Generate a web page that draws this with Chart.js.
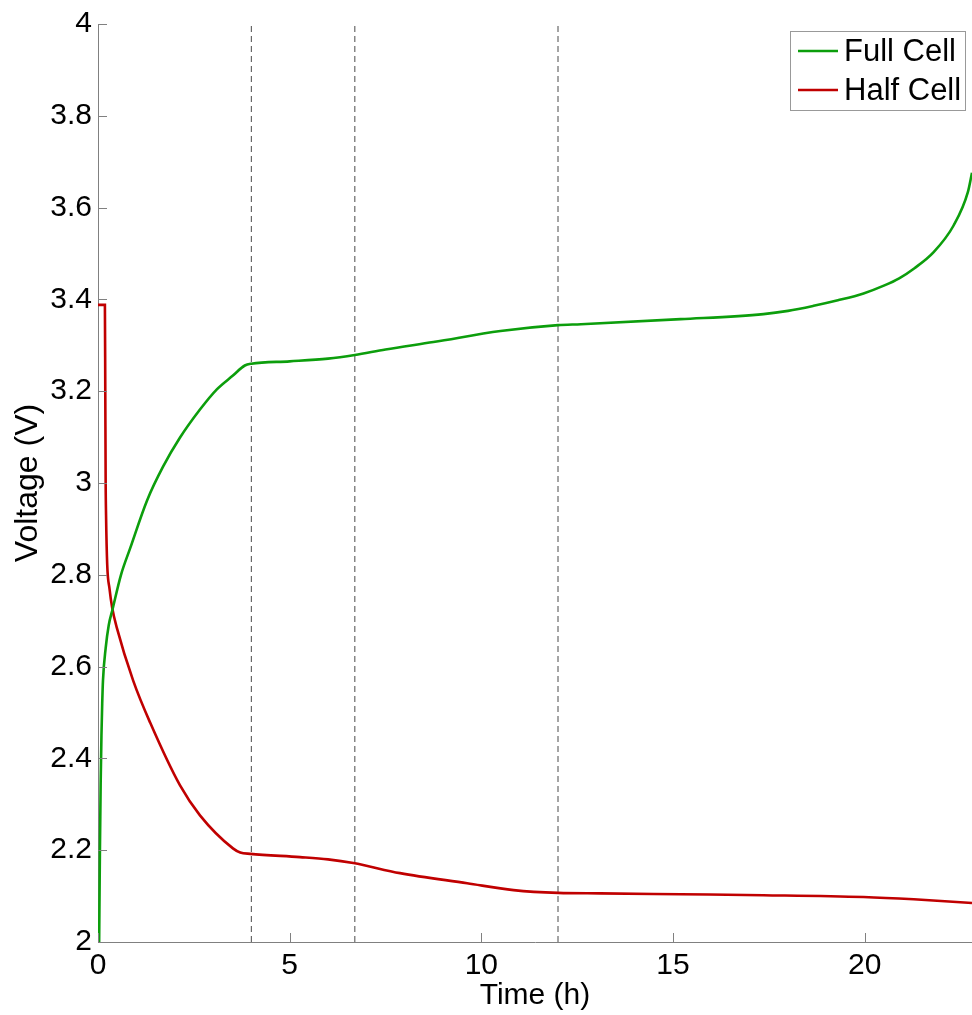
<!DOCTYPE html>
<html>
<head>
<meta charset="utf-8">
<script src="https://cdn.jsdelivr.net/npm/chart.js@4.4.1/dist/chart.umd.min.js"></script>
<style>
  html, body { margin: 0; padding: 0; background: #fff; }
  #chart { display: block; }
</style>
</head>
<body>
<canvas id="chart" width="972" height="1015"></canvas>
<script>
// ── Data ────────────────────────────────────
const fullX = [0.03, 0.05, 0.07, 0.09, 0.11, 0.13, 0.2, 0.28, 0.38, 0.6, 0.84, 1.28, 1.7, 2.14, 2.66, 3.1, 3.52, 3.83, 4.0, 5.0, 6.0, 6.7, 7.5, 8.75, 10.5, 12, 12.6, 15.2, 17.36, 18.0, 18.67, 19.3, 19.97, 20.5, 20.9, 21.3, 21.8, 22.32, 22.69, 22.8];
const fullY = [2.0, 2.2, 2.35, 2.45, 2.52, 2.57, 2.64, 2.69, 2.725, 2.8, 2.858, 2.962, 3.036, 3.099, 3.16, 3.204, 3.234, 3.256, 3.26, 3.265, 3.271, 3.279, 3.291, 3.307, 3.331, 3.344, 3.346, 3.357, 3.368, 3.375, 3.386, 3.398, 3.413, 3.43, 3.446, 3.468, 3.503, 3.561, 3.633, 3.676];

const halfX = [0, 0.18, 0.19, 0.2, 0.21, 0.24, 0.3, 0.37, 0.49, 0.92, 1.36, 2.14, 2.66, 3.52, 3.71, 3.97, 5.27, 6.0, 6.66, 7.88, 9.63, 10.84, 12, 13.1, 15.2, 17.36, 19.97, 21.28, 22.8];
const halfY = [3.388, 3.388, 3.2, 3.0, 2.93, 2.823, 2.77, 2.728, 2.685, 2.569, 2.478, 2.341, 2.276, 2.204, 2.195, 2.192, 2.185, 2.18, 2.172, 2.150, 2.128, 2.113, 2.107, 2.106, 2.104, 2.102, 2.098, 2.093, 2.085];

const markerX = [4, 6.7, 12];          // dashed vertical lines
const xTicks = [0, 5, 10, 15, 20];
const yTicks = [2, 2.2, 2.4, 2.6, 2.8, 3, 3.2, 3.4, 3.6, 3.8, 4];
const xRange = [0, 22.8];
const yRange = [2, 4];

const GREEN = '#0c9e0c';
const RED = '#c00000';
const AXIS = '#808080';
const FONT = "'Liberation Sans', Arial, sans-serif";

const toPoints = (xs, ys) => xs.map((x, i) => ({ x, y: ys[i] }));

const datasets = [
  { label: 'Full Cell', data: toPoints(fullX, fullY), borderColor: GREEN, backgroundColor: GREEN,
    borderWidth: 2.6, pointRadius: 0, cubicInterpolationMode: 'monotone' },
  { label: 'Half Cell', data: toPoints(halfX, halfY), borderColor: RED, backgroundColor: RED,
    borderWidth: 2.6, pointRadius: 0, cubicInterpolationMode: 'monotone' }
];
markerX.forEach(x => {
  datasets.push({
    label: '', data: [{ x, y: yRange[0] }, { x, y: yRange[1] }],
    borderColor: '#4a4a4a', borderWidth: 1, borderDash: [6, 4], pointRadius: 0, marker: true
  });
});

// ── Inward tick marks ────────────────────────
const innerTicks = {
  id: 'innerTicks',
  afterDatasetsDraw(chart) {
    const { ctx, chartArea, scales } = chart;
    ctx.save();
    ctx.strokeStyle = AXIS;
    ctx.lineWidth = 1;
    ctx.beginPath();
    xTicks.forEach(v => {
      const px = Math.round(scales.x.getPixelForValue(v)) + 0.5;
      ctx.moveTo(px, chartArea.bottom);
      ctx.lineTo(px, chartArea.bottom - 9);
    });
    yTicks.forEach(v => {
      const py = Math.round(scales.y.getPixelForValue(v)) + 0.5;
      ctx.moveTo(chartArea.left, py);
      ctx.lineTo(chartArea.left + 9, py);
    });
    ctx.stroke();
    ctx.restore();
  }
};

// ── Boxed legend in the top right corner ────
const boxLegend = {
  id: 'boxLegend',
  afterDraw(chart) {
    const { ctx, chartArea } = chart;
    const items = chart.data.datasets.filter(d => !d.marker);
    const w = 175, rowH = 39;
    const h = 40 + rowH * (items.length - 1);
    const left = chartArea.right - 7 - w;
    const top = chartArea.top + 7;
    ctx.save();
    ctx.fillStyle = '#fff';
    ctx.fillRect(left, top, w, h);
    ctx.strokeStyle = '#999';
    ctx.lineWidth = 1;
    ctx.strokeRect(left + 0.5, top + 0.5, w, h);
    ctx.font = '31px ' + FONT;
    ctx.textBaseline = 'middle';
    items.forEach((d, i) => {
      const y = top + 20 + i * rowH;
      ctx.strokeStyle = d.borderColor;
      ctx.lineWidth = 2.6;
      ctx.beginPath();
      ctx.moveTo(left + 8, y);
      ctx.lineTo(left + 48, y);
      ctx.stroke();
      ctx.fillStyle = '#000';
      ctx.fillText(d.label, left + 54, y + 1);
    });
    ctx.restore();
  }
};

new Chart(document.getElementById('chart'), {
  type: 'line',
  data: { datasets },
  plugins: [innerTicks, boxLegend],
  options: {
    responsive: false,
    animation: false,
    devicePixelRatio: 1,
    layout: { padding: { top: 21, right: 0, left: 0, bottom: 0 } },
    plugins: { legend: { display: false }, tooltip: { enabled: false } },
    scales: {
      x: {
        type: 'linear',
        min: xRange[0],
        max: xRange[1],
        afterBuildTicks: s => { s.ticks = xTicks.map(v => ({ value: v })); },
        afterFit: s => { s.height = 73; },
        grid: { display: false, drawTicks: false },
        border: { display: true, color: AXIS, width: 1 },
        ticks: { color: '#000', font: { family: FONT, size: 30 }, padding: 6, maxRotation: 0 },
        title: { display: true, text: 'Time (h)', color: '#000', font: { family: FONT, size: 30 }, padding: { top: 0, bottom: 1 } }
      },
      y: {
        type: 'linear',
        min: yRange[0],
        max: yRange[1],
        afterBuildTicks: s => { s.ticks = yTicks.map(v => ({ value: v })); },
        afterFit: s => { s.width = 98; },
        grid: { display: false, drawTicks: false },
        border: { display: true, color: AXIS, width: 1 },
        ticks: {
          color: '#000', font: { family: FONT, size: 30 }, padding: 6,
          callback: v => String(Math.round(v * 10) / 10)
        },
        title: { display: true, text: 'Voltage (V)', color: '#000', font: { family: FONT, size: 32 }, padding: { top: 9, bottom: 0 } }
      }
    }
  }
});
</script>
</body>
</html>
